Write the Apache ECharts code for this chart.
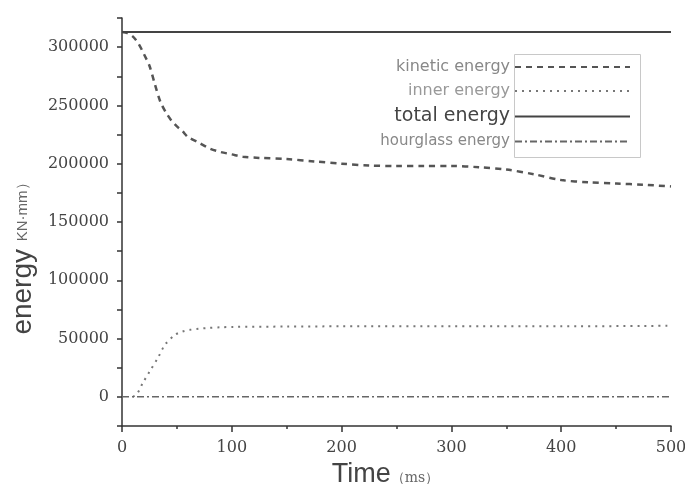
<!DOCTYPE html>
<html>
<head>
<meta charset="utf-8">
<script src="https://cdn.jsdelivr.net/npm/echarts@6/dist/echarts.min.js"></script>
<style>
    html, body { margin: 0; padding: 0; background: #fff; }
    #main { width: 685px; height: 484px; }
</style>
</head>
<body>
<div id="main"></div>
<script>
    // 数据
    var kineticT = [0, 5, 10, 15, 20, 25, 30, 35, 40, 45, 50, 55, 60, 70, 80, 90, 100, 110, 125, 150, 175, 200, 225, 250, 275, 300, 325, 350, 375, 400, 425, 450, 475, 500];
    var kineticV = [313000, 312000, 309000, 303000, 294000, 284000, 268000, 253000, 244000, 237000, 232000, 228000, 223000, 218000, 213000, 210000, 208000, 206000, 205000, 204000, 202000, 200000, 198500, 198000, 198000, 198000, 197000, 195000, 191000, 186000, 184000, 183000, 182000, 180500];

    var innerT = [10, 14, 19, 25, 33, 39, 48, 55, 62, 70, 77, 90, 101, 150, 200, 300, 400, 500];
    var innerV = [0, 3000, 12000, 21500, 34000, 44500, 53000, 56000, 57500, 58500, 59000, 59700, 60000, 60300, 60500, 60500, 60500, 61000];

    var totalT = [0, 500];
    var totalV = [313000, 313000];

    var hourglassT = [0, 500];
    var hourglassV = [0, 0];

    var seriesNames = ['kinetic energy', 'inner energy', 'total energy', 'hourglass energy'];

    function pairs(t, v) {
        var out = [];
        for (var i = 0; i < t.length; i++) {
            out.push([t[i], v[i]]);
        }
        return out;
    }

    var myChart = echarts.init(document.getElementById('main'));
    var option = {
        animation: false,
        backgroundColor: '#fff',
        grid: {
            left: 122,
            right: 14,
            top: 18,
            bottom: 58,
            containLabel: false,
            outerBoundsMode: 'none'
        },
        legend: {
            orient: 'vertical',
            align: 'right',
            right: 49,
            top: 54,
            itemWidth: 115,
            itemHeight: 14,
            itemGap: 8,
            itemStyle: {opacity: 0},
            data: [
                {name: seriesNames[0], textStyle: {fontSize: 16, color: '#888'}},
                {name: seriesNames[1], textStyle: {fontSize: 16, color: '#999'}},
                {name: seriesNames[2], textStyle: {fontSize: 19, color: '#444'}},
                {name: seriesNames[3], textStyle: {fontSize: 15, color: '#888'}}
            ],
            textStyle: {fontFamily: 'DejaVu Sans'}
        },
        graphic: [
            {
                type: 'rect',
                left: 512,
                top: 52,
                shape: {width: 126, height: 103},
                style: {fill: 'none', stroke: '#c8c8c8', lineWidth: 1},
                silent: true
            }
        ],
        xAxis: {
            type: 'value',
            min: 0,
            max: 500,
            interval: 100,
            name: 'Time{s|（ms）}',
            nameLocation: 'middle',
            nameGap: 28,
            nameTextStyle: {
                fontFamily: 'Liberation Sans',
                fontSize: 27,
                color: '#444',
                padding: [0, 22, 0, 0],
                rich: {
                    s: {fontSize: 14, fontFamily: 'DejaVu Serif', color: '#666', padding: [8, 0, 0, 0]}
                }
            },
            axisLine: {show: true, onZero: false, lineStyle: {color: '#333', width: 1.5}},
            axisTick: {show: true, inside: false, length: 6, lineStyle: {color: '#333', width: 1.5}},
            minorTick: {show: true, splitNumber: 2, length: 3, lineStyle: {color: '#333', width: 1.5}},
            axisLabel: {
                margin: 14,
                fontFamily: 'DejaVu Serif',
                fontSize: 16,
                color: '#444'
            },
            splitLine: {show: false}
        },
        yAxis: {
            type: 'value',
            min: -25000,
            max: 325000,
            interval: 25000,
            name: 'energy {s|KN·mm）}',
            nameLocation: 'middle',
            nameGap: 82,
            nameTextStyle: {
                fontFamily: 'Liberation Sans',
                fontSize: 28,
                color: '#444',
                padding: [0, 66, 0, 0],
                rich: {
                    s: {fontSize: 15, fontFamily: 'Liberation Sans', color: '#666'}
                }
            },
            axisLine: {show: true, onZero: false, lineStyle: {color: '#333', width: 1.5}},
            axisTick: {show: true, inside: false, length: 5, lineStyle: {color: '#333', width: 1.5}},
            axisLabel: {
                margin: 13,
                fontFamily: 'DejaVu Serif',
                fontSize: 16,
                color: '#444',
                formatter: function (v) {
                    return v % 50000 === 0 ? String(v) : '';
                }
            },
            splitLine: {show: false}
        },
        series: [
            {
                name: seriesNames[0],
                type: 'line',
                data: pairs(kineticT, kineticV),
                showSymbol: false,
                symbol: 'none',
                smooth: 0.3,
                lineStyle: {color: '#555', width: 2.5, type: [6, 5]},
                itemStyle: {color: '#555'}
            },
            {
                name: seriesNames[1],
                type: 'line',
                data: pairs(innerT, innerV),
                showSymbol: false,
                symbol: 'none',
                smooth: 0.3,
                lineStyle: {color: '#777', width: 2, type: [2, 5]},
                itemStyle: {color: '#777'}
            },
            {
                name: seriesNames[2],
                type: 'line',
                data: pairs(totalT, totalV),
                showSymbol: false,
                symbol: 'none',
                lineStyle: {color: '#444', width: 2, type: 'solid'},
                itemStyle: {color: '#444'}
            },
            {
                name: seriesNames[3],
                type: 'line',
                data: pairs(hourglassT, hourglassV),
                showSymbol: false,
                symbol: 'none',
                lineStyle: {color: '#666', width: 1.5, type: [7, 3, 2, 3]},
                itemStyle: {color: '#666'}
            }
        ]
    };
    myChart.setOption(option);
</script>
</body>
</html>
